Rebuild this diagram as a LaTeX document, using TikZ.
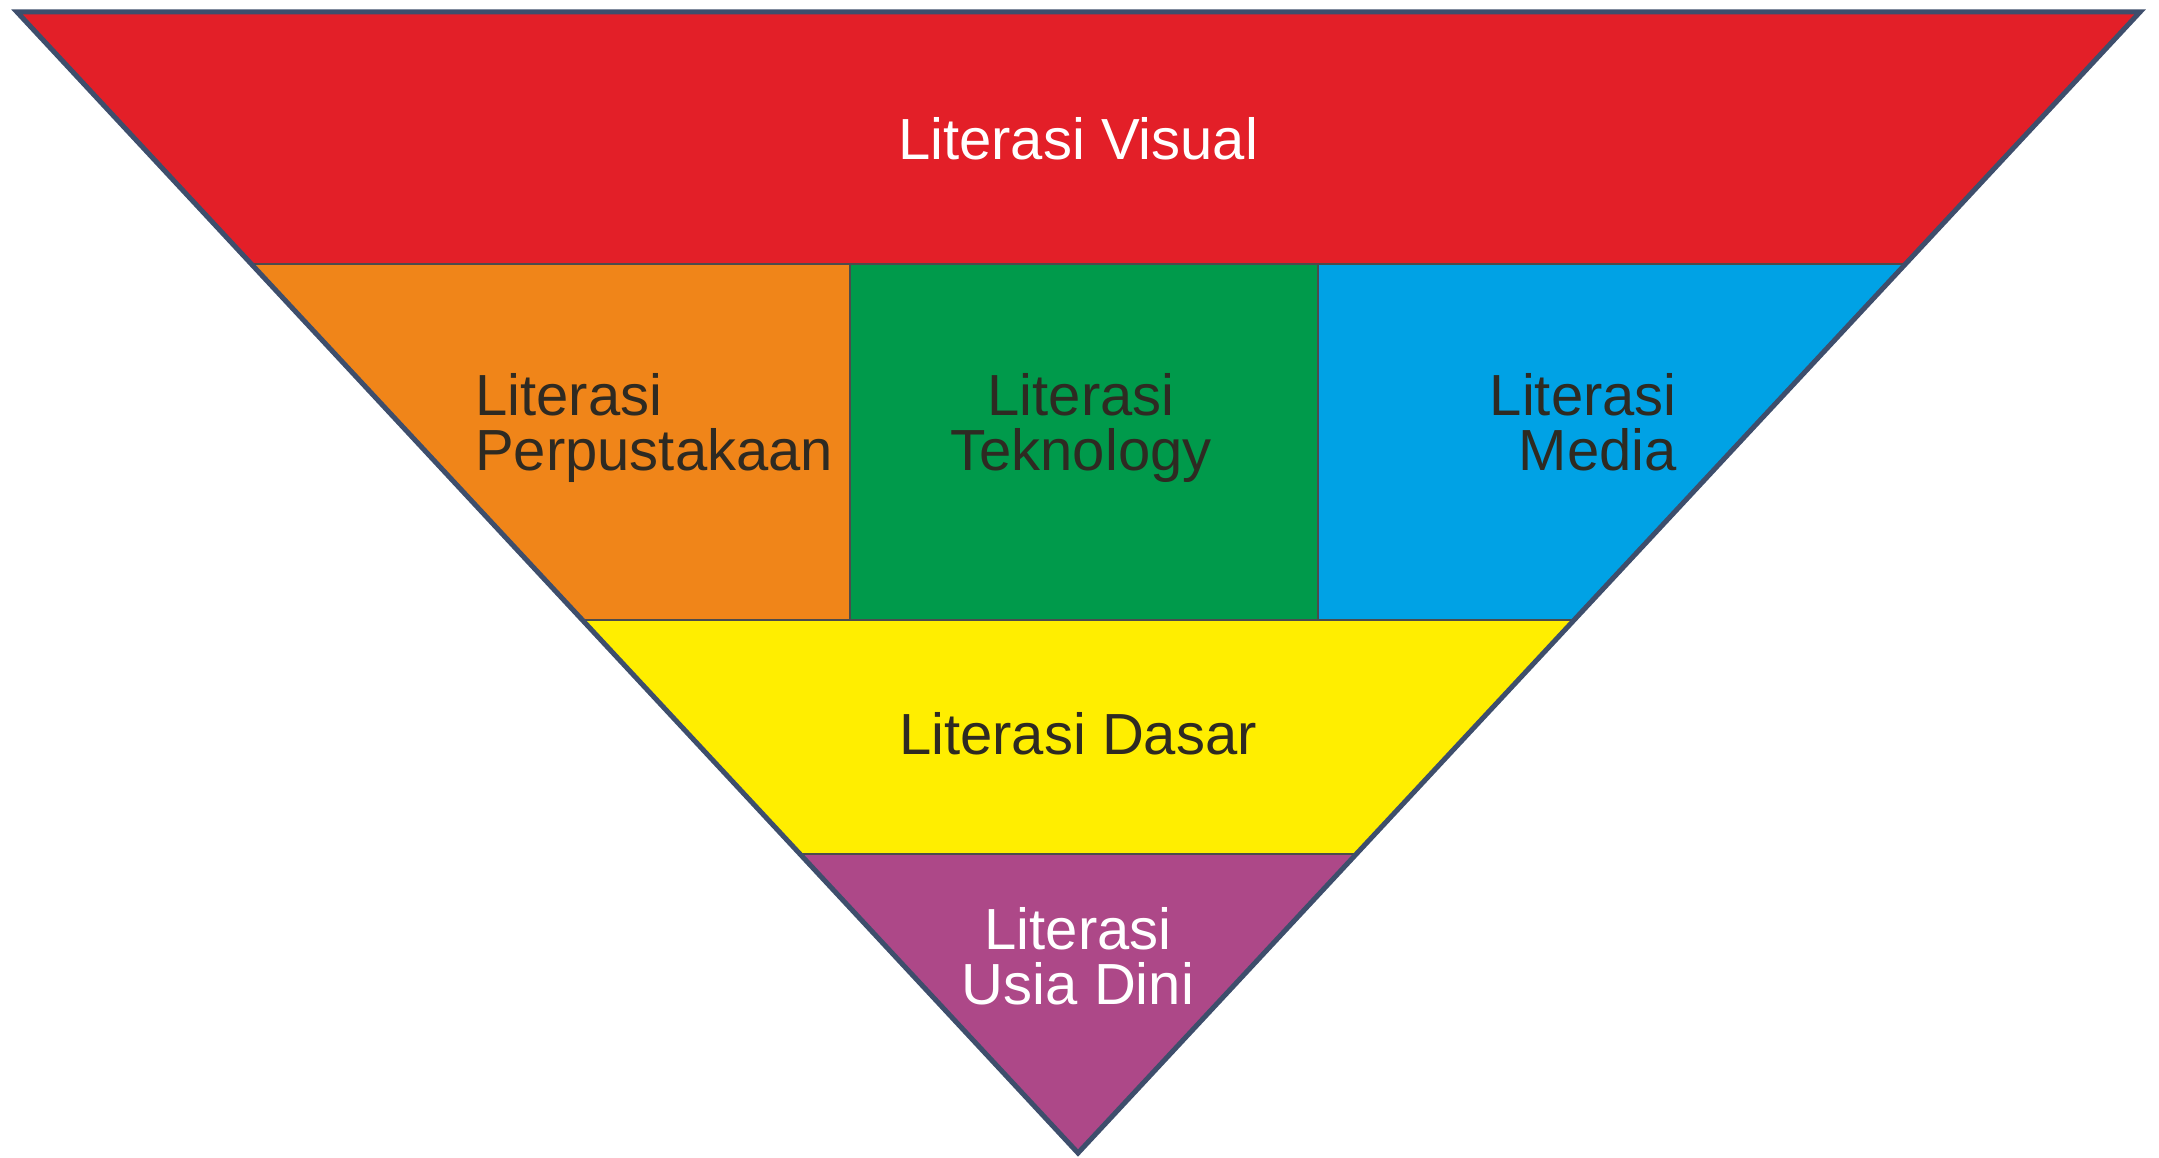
\documentclass[tikz,border=0pt]{standalone}
\usepackage{fontspec}
\setmainfont{Liberation Sans}
\definecolor{cred}{HTML}{E31F28}
\definecolor{corange}{HTML}{F08519}
\definecolor{cgreen}{HTML}{009A4B}
\definecolor{cblue}{HTML}{00A2E5}
\definecolor{cyellow}{HTML}{FFEE00}
\definecolor{cpurple}{HTML}{AD4888}
\definecolor{cedge}{HTML}{3E4E6C}
\definecolor{ctext}{HTML}{2E2A22}
\begin{document}
\begin{tikzpicture}[x=1pt,y=-1pt,
  lbl/.style={font=\fontsize{58}{55}\selectfont, inner sep=0pt},
  dk/.style={lbl, text=ctext},
  wt/.style={lbl, text=white},
  two/.style={text depth=12pt},
  divider/.style={draw=black!70, line width=1.5pt}]
\useasboundingbox (0,0) rectangle (2159,1158);
\coordinate (A) at (17,12);
\coordinate (B) at (2140,12);
\coordinate (C) at (1078,1153);
\begin{scope}
\clip (A) -- (B) -- (C) -- cycle;
\fill[cred] (0,0) rectangle (2159,264);
\fill[corange] (0,264) rectangle (850,620);
\fill[cgreen] (850,264) rectangle (1318,620);
\fill[cblue] (1318,264) rectangle (2159,620);
\fill[cyellow] (0,620) rectangle (2159,854);
\fill[cpurple] (0,854) rectangle (2159,1158);
\draw[divider] (0,264) -- (2159,264);
\draw[divider] (0,620) -- (2159,620);
\draw[divider] (0,854) -- (2159,854);
\draw[divider] (850,264) -- (850,620);
\draw[divider] (1318,264) -- (1318,620);
\end{scope}
\draw[cedge, line width=5pt, line join=miter] (A) -- (B) -- (C) -- cycle;
\node[wt] (visual) at (1078,139) {Literasi Visual};
\node[dk, two, align=left, anchor=west] (perp) at (475,428) {Literasi\\Perpustakaan};
\node[dk, two, align=center] (tek) at (1081,428) {Literasi\\Teknology};
\node[dk, two, align=right, anchor=east] (media) at (1677,428) {Literasi\\Media};
\node[dk] (dasar) at (1078,734) {Literasi Dasar};
\node[wt, two, align=center] (usia) at (1078,962) {Literasi\\Usia Dini};
\end{tikzpicture}
\end{document}
